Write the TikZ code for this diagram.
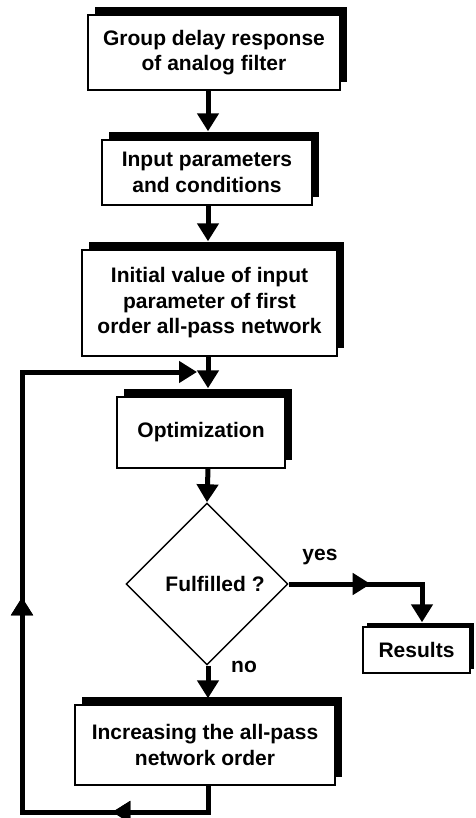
\documentclass[tikz,border=0pt]{standalone}
\usepackage{fontspec}
\setmainfont{Liberation Sans}
\usetikzlibrary{shapes.geometric,arrows.meta,shadows,decorations.markings,calc}

\begin{document}
\begin{tikzpicture}[x=1pt,y=-1pt,
  txt/.style={font=\bfseries\fontsize{21}{25.5}\selectfont, align=center},
  box/.style={txt, draw, line width=1.4pt, fill=white, inner sep=0pt,
    drop shadow={shadow xshift=7pt, shadow yshift=8pt, fill=black, opacity=1}},
  smallbox/.style={txt, draw, line width=1.4pt, fill=white, inner sep=0pt,
    drop shadow={shadow xshift=4pt, shadow yshift=4pt, fill=black, opacity=1}},
  decision/.style={draw, diamond, line width=1.4pt, inner sep=0pt,
    minimum width=162pt, minimum height=162pt},
  flow/.style={line width=5pt, line join=miter, -{Triangle[width=21pt,length=18pt]}},
  midtip/.style={postaction={decorate}, decoration={markings,
    mark=at position #1 with {\arrow{Triangle[width=21pt,length=18pt]}}}}
]
\useasboundingbox (0,0) rectangle (475,818);

% vertical axis of the main flow
\coordinate (axis) at (208,0);

% process boxes
\node[box, minimum width=252pt, minimum height=75pt] (b1) at (214,52.5)
  {Group delay response\\of analog filter};
\node[box, minimum width=210pt, minimum height=65pt] (b2) at (207,172.5)
  {Input parameters\\and conditions};
\node[box, minimum width=255pt, minimum height=106pt] (b3) at (209.5,303)
  {Initial value of input\\parameter of first\\order all-pass network};
\node[box, minimum width=168pt, minimum height=71pt] (opt) at (201,432.5)
  {Optimization};
\node[decision] (d) at (207,584) {};
\node[txt] (dt) at (215,584) {Fulfilled ?};
\node[smallbox, minimum width=107pt, minimum height=46pt] (res) at (416.5,650)
  {Results};
\node[box, minimum width=260pt, minimum height=80pt] (inc) at (205,745)
  {Increasing the all-pass\\network order};

% branch labels
\node[txt] (yes) at (320,557) {yes};
\node[txt] (no) at (244,667) {no};

% main downward flow
\draw[flow, shorten >=8pt] (b1.south -| axis) -- (b2.north -| axis);
\draw[flow, shorten >=8pt] (b2.south -| axis) -- (b3.north -| axis);
\draw[flow, shorten >=8pt] (b3.south -| axis) -- (opt.north -| axis);
\draw[flow] (opt.south -| axis) -- (d.north);
\draw[flow, shorten >=6pt] (d.south -| axis) -- (inc.north -| axis);

% "yes" branch to the results
\coordinate (yc) at (422,584);
\draw[flow, shorten >=4pt, midtip=82pt] (d.east) -- (yc) -- (yc |- res.north);

% feedback loop back into the optimization
\coordinate (lb) at (22,812);
\coordinate (lt) at (22,372);
\coordinate (j) at (axis |- lt);
\draw[flow, shorten >=11pt, midtip=122pt, midtip=427pt]
  (inc.south -| axis) -- (axis |- lb) -- (lb) -- (lt) -- (j);
\end{tikzpicture}
\end{document}
